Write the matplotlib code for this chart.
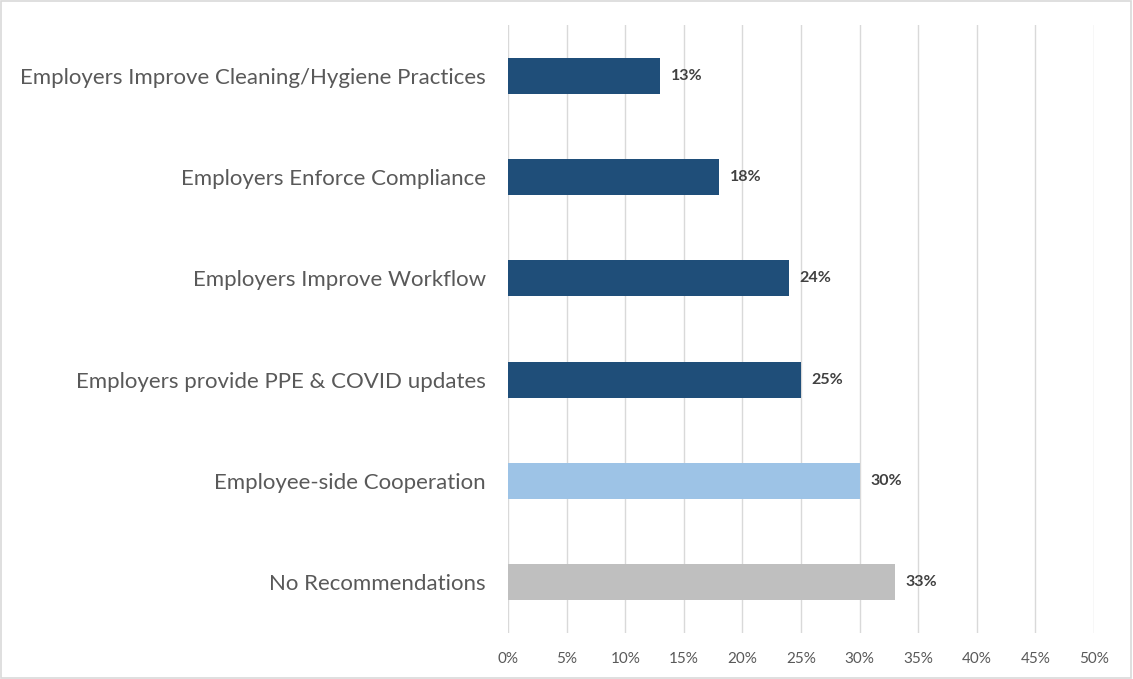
import matplotlib
matplotlib.use("Agg")
import matplotlib.pyplot as plt
from matplotlib.patches import Rectangle

categories = [
    "Employers Improve Cleaning/Hygiene Practices",
    "Employers Enforce Compliance",
    "Employers Improve Workflow",
    "Employers provide PPE & COVID updates",
    "Employee-side Cooperation",
    "No Recommendations",
]
values = [13, 18, 24, 25, 30, 33]
colors = ["#1F4E79", "#1F4E79", "#1F4E79", "#1F4E79", "#9DC3E6", "#BFBFBF"]
xticks = [0, 5, 10, 15, 20, 25, 30, 35, 40, 45, 50]

plt.rcParams['font.family'] = ['Lato', 'DejaVu Sans']

fig = plt.figure(figsize=(11.33, 6.79), dpi=100)
ax = fig.add_axes([0.4484, 0.0683, 0.5172, 0.8943])

y = list(range(len(categories)))
ax.barh(y, values, height=0.356, color=colors, zorder=3)
ax.set_ylim(len(categories) - 0.5, -0.5)
ax.set_xlim(0, 50)
ax.set_xticks(xticks)
ax.set_xticklabels([f"{t}%" for t in xticks], fontsize=11, color="#595959")
ax.set_yticks(y)
ax.set_yticklabels(categories, fontsize=16, color="#595959")
ax.tick_params(axis='y', length=0, pad=16)
ax.tick_params(axis='x', length=0, pad=14)
ax.grid(axis='x', color="#D9D9D9", linewidth=1, zorder=0)
for s in ax.spines.values():
    s.set_visible(False)

for yi, v in zip(y, values):
    ax.text(v + 0.9, yi, f"{v}%", va='center', ha='left', fontsize=11.5,
            fontweight='bold', color="#404040")

fig.patches.append(Rectangle((0.001, 0.001), 0.997, 0.997, transform=fig.transFigure,
                             fill=False, edgecolor="#D9D9D9", linewidth=1.2))

fig.savefig("out.png", dpi=100)
